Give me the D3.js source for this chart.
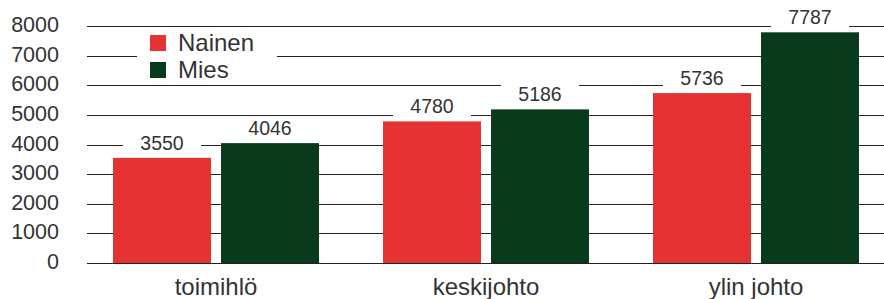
<!DOCTYPE html>
<html>
<head>
<meta charset="utf-8">
<script src="https://cdn.jsdelivr.net/npm/d3@7"></script>
<style>
  body { margin: 0; background: #fff; }
  text { font-family: "Liberation Sans", Arial, sans-serif; fill: #333; }
</style>
</head>
<body>
<div id="chart"></div>
<script>
// data
const categories = ["toimihlö", "keskijohto", "ylin johto"];
const seriesNames = ["Nainen", "Mies"];
const nainen = [3550, 4780, 5736];
const mies = [4046, 5186, 7787];
const yTicks = [0, 1000, 2000, 3000, 4000, 5000, 6000, 7000, 8000];

const colors = { Nainen: "#e53232", Mies: "#0a3a1c" };

const width = 884;
const height = 299;

const svg = d3.select("#chart")
    .append("svg")
    .attr("width", width)
    .attr("height", height);

const yScale = d3.scaleLinear()
    .domain([0, 8000])
    .range([263, 26]);

const x0 = d3.scaleBand()
    .domain(categories)
    .range([81, 891])
    .paddingInner(0.237)
    .paddingOuter(0.1185);

const x1 = d3.scaleBand()
    .domain(seriesNames)
    .range([0, x0.bandwidth()])
    .paddingInner(0.0926);

// grid lines
svg.append("g")
    .selectAll("line")
    .data(yTicks)
    .enter()
    .append("line")
    .attr("x1", 87)
    .attr("x2", width)
    .attr("y1", d => Math.round(yScale(d)) + 0.5)
    .attr("y2", d => Math.round(yScale(d)) + 0.5)
    .attr("stroke", "#222")
    .attr("stroke-width", 1);

// y tick labels
svg.append("g")
    .selectAll("text")
    .data(yTicks)
    .enter()
    .append("text")
    .attr("x", 59)
    .attr("y", d => yScale(d) + 6)
    .attr("text-anchor", "end")
    .attr("font-size", 21.5)
    .text(d => d);

const rows = categories.map((c, i) => ({
    cat: c,
    values: [
        { key: "Nainen", value: nainen[i] },
        { key: "Mies", value: mies[i] }
    ]
}));

const groups = svg.selectAll(".group")
    .data(rows)
    .enter()
    .append("g")
    .attr("class", "group")
    .attr("transform", d => `translate(${x0(d.cat)},0)`);

groups.selectAll("rect.bar")
    .data(d => d.values)
    .enter()
    .append("rect")
    .attr("class", "bar")
    .attr("x", d => x1(d.key))
    .attr("y", d => yScale(d.value))
    .attr("width", x1.bandwidth())
    .attr("height", d => yScale(0) - yScale(d.value))
    .attr("fill", d => colors[d.key]);

// value labels with white background
const labels = groups.selectAll("g.lbl")
    .data(d => d.values)
    .enter()
    .append("g")
    .attr("class", "lbl");

labels.append("rect")
    .attr("x", d => x1(d.key) + x1.bandwidth() / 2 - 39)
    .attr("y", d => yScale(d.value) - 25)
    .attr("width", 78)
    .attr("height", 24)
    .attr("fill", "#fff");

labels.append("text")
    .attr("x", d => x1(d.key) + x1.bandwidth() / 2)
    .attr("y", d => yScale(d.value) - 8)
    .attr("text-anchor", "middle")
    .attr("font-size", 19.5)
    .text(d => d.value);

// category labels
svg.append("g")
    .selectAll("text")
    .data(categories)
    .enter()
    .append("text")
    .attr("x", d => x0(d) + x0.bandwidth() / 2)
    .attr("y", 295)
    .attr("text-anchor", "middle")
    .attr("font-size", 24)
    .text(d => d);

// legend
const legend = svg.append("g");
legend.append("rect")
    .attr("x", 137)
    .attr("y", 30)
    .attr("width", 140)
    .attr("height", 52)
    .attr("fill", "#fff");

const items = legend.selectAll("g.item")
    .data(seriesNames)
    .enter()
    .append("g")
    .attr("class", "item")
    .attr("transform", (d, i) => `translate(150,${35 + i * 27})`);

items.append("rect")
    .attr("width", 16)
    .attr("height", 16)
    .attr("fill", d => colors[d]);

items.append("text")
    .attr("x", 28)
    .attr("y", 16)
    .attr("font-size", 24)
    .text(d => d);
</script>
</body>
</html>
